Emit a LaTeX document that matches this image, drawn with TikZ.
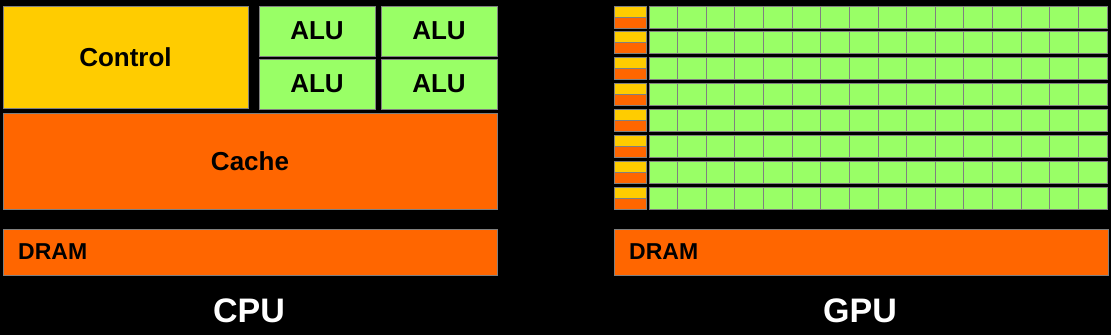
\documentclass[tikz,border=0pt]{standalone}
\usepackage{fontspec}
\setmainfont{Liberation Sans}
\usepackage{tikz}
\usepackage{xcolor}

\definecolor{ctrlyellow}{HTML}{FFCC00}
\definecolor{cacheorange}{HTML}{FF6600}
\definecolor{alugreen}{HTML}{99FF66}
\definecolor{edgegray}{HTML}{808080}

\begin{document}
\begin{tikzpicture}[x=1pt,y=-1pt,
  blk/.style={draw=edgegray, line width=1pt, inner sep=0pt, outer sep=0pt, anchor=north west,
    font=\fontsize{26}{26}\selectfont\bfseries},
  cell/.style={draw=edgegray, line width=0.9pt},
  lbl/.style={inner sep=0pt, anchor=west, font=\fontsize{23}{23}\selectfont\bfseries},
  title/.style={inner sep=0pt, anchor=base, text=white, font=\fontsize{34}{34}\selectfont\bfseries}]
  \fill[black] (0,0) rectangle (1111,335);
  \useasboundingbox (0,0) rectangle (1111,335);
  % CPU side
  \node[blk, fill=ctrlyellow, minimum width=245pt, minimum height=102pt] (ctrl) at (3,6) {Control};
  \node[blk, fill=alugreen, minimum width=116pt, minimum height=50pt] (alua) at (259,6) {ALU};
  \node[blk, fill=alugreen, minimum width=116pt, minimum height=50pt] (alub) at (381,6) {ALU};
  \node[blk, fill=alugreen, minimum width=116pt, minimum height=50pt] (aluc) at (259,59) {ALU};
  \node[blk, fill=alugreen, minimum width=116pt, minimum height=50pt] (alud) at (381,59) {ALU};
  \node[blk, fill=cacheorange, minimum width=494pt, minimum height=96pt] (cache) at (3,113) {Cache};
  \node[blk, fill=cacheorange, minimum width=494pt, minimum height=46pt] (cpudram) at (3,229) {};
  \node[lbl] (cpudramtxt) at ([xshift=15pt]cpudram.west) {DRAM};
  \node[title] (cpu) at (249,322) {CPU};
  % GPU side: 8 rows of control, cache and 16 ALUs
  \foreach \r in {0,...,7} {
    \pgfmathsetmacro{\yt}{6+25.86*\r}
    \draw[cell, fill=ctrlyellow] (614,\yt) rectangle (646,\yt+11);
    \draw[cell, fill=cacheorange] (614,\yt+11) rectangle (646,\yt+22);
    \foreach \c in {0,...,15} {
      \pgfmathsetmacro{\xl}{649+28.625*\c}
      \draw[cell, fill=alugreen] (\xl,\yt) rectangle (\xl+28.625,\yt+22);
    }
  }
  \node[blk, fill=cacheorange, minimum width=494pt, minimum height=46pt] (gpudram) at (614,229) {};
  \node[lbl] (gpudramtxt) at ([xshift=15pt]gpudram.west) {DRAM};
  \node[title] (gpu) at (860,322) {GPU};
\end{tikzpicture}
\end{document}
